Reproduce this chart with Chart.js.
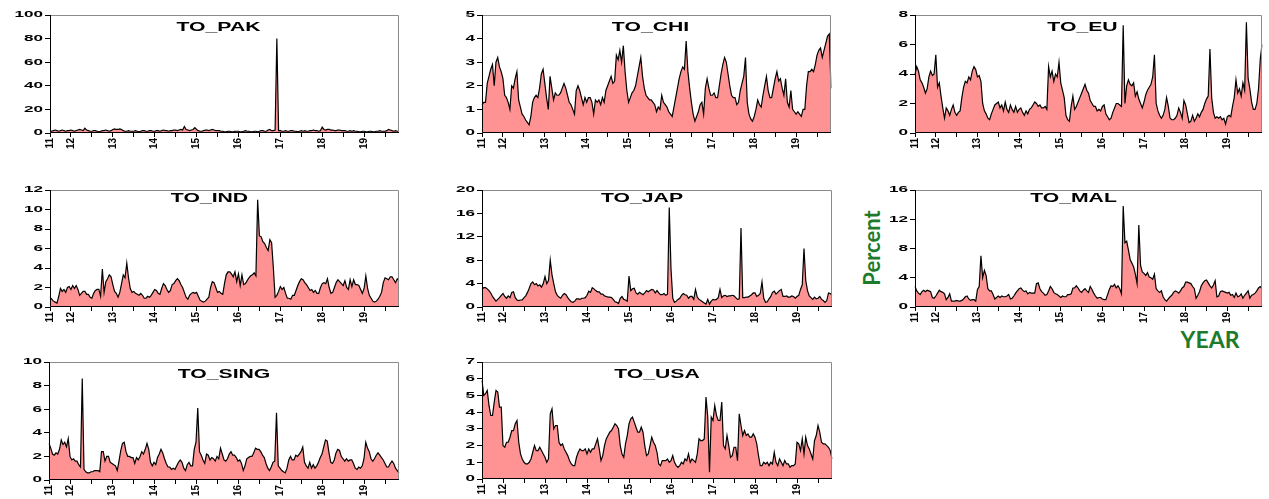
<!DOCTYPE html>
<html>
<head>
<meta charset="utf-8">
<script src="https://cdn.jsdelivr.net/npm/chart.js@4.4.1/dist/chart.umd.min.js"></script>
<style>
  body { margin: 0; background: #fff; width: 1269px; height: 499px; position: relative; overflow: hidden; }
  canvas { position: absolute; }
  .axisTitle { position: absolute; color: #1e7b2c; font: bold 22px Lato, "Open Sans", sans-serif; white-space: nowrap; }
</style>
</head>
<body>
<div class="axisTitle" id="percent" style="left:871px; top:248px; transform: translate(-50%, -50%) rotate(-90deg);">Percent</div>
<div class="axisTitle" id="year" style="left:1210px; top:339px; transform: translate(-50%, -50%); font-size:23px;">YEAR</div>
<script>
// semi-monthly observations, Jul 2011 .. Nov 2019
const periods = [];
for (let k = 0; k < 201; k++) {
    const m = 6 + Math.floor(k / 2);
    periods.push(`${2011 + Math.floor(m / 12)}M${String(m % 12 + 1).padStart(2, '0')}${k % 2 ? 'b' : 'a'}`);
}
const yearLabels = ['11', '12', '13', '14', '15', '16', '17', '18', '19'];
const yearLabelIdx = [0, 12, 36, 60, 84, 108, 132, 156, 180];
const minorTickEvery = 12; // half-year tick marks

const toPak = [
    2,1.5,2,2.5,2,1.5,2,2.5,2,1.5,2,2,
    2.5,2,1.5,2,2.5,3,2.5,2,4,2.5,2,1.5,
    1.5,2,2,1.5,1,1.5,2,2,2.5,2,1.5,2,
    3,3.5,3,3,3.5,3,2,1.5,1.5,2,1.5,1.5,
    1.5,2,1.5,1,1.5,2,2,1.5,1.5,2,2,1.5,
    1.5,2,2,1.5,2,2.5,2,2,1.5,2,2,2.5,
    2.5,2,2.5,3,2.5,5.5,3,2.5,2,2.5,3,4.5,
    3,2,1.5,1.5,2,2.5,2.5,2,2.5,3,2.5,2,
    2,2,1.5,1.5,1,1,1.5,1.5,1,1,1.5,1.5,
    1.5,1,1,1.5,2,1.5,1.5,1,1,1.5,1.5,1,
    1.5,2,2,1.5,1.5,2.5,3,2,2,2.5,80,2,
    2,1.5,1.5,2,1.5,1.5,2,2,1.5,1.5,1,1.5,
    2,1.5,2,1.5,1.5,2,2,2.5,2,2,1.5,2,
    5,3,2.5,3,3,2.5,2.5,2,2,2.5,2.5,2,
    2,2,1.5,1.5,2,1.5,2,1.5,1.5,1,1,1.5,
    1.5,1,1,1.5,1.5,1,1,1.5,1.5,2,1.5,1.5,
    1.5,2,3,2.5,2,1.5,2,1.5,1.5
];
const toChi = [
    1.2,1.3,1.3,2.1,2.4,2.7,2.9,2.0,3.0,3.2,2.8,2.6,
    2.3,1.6,1.5,1.3,1.0,2.0,1.9,2.3,2.6,1.4,1.1,0.8,
    0.7,0.55,0.45,0.35,0.7,1.3,1.5,1.6,1.5,1.9,2.5,2.7,
    2.1,1.5,1.0,2.4,1.9,1.4,1.7,1.6,1.6,1.7,1.9,2.1,
    1.9,1.6,1.3,1.2,1.0,0.8,1.8,2.0,1.8,1.5,1.2,1.5,
    1.3,1.5,1.5,1.3,0.8,1.4,1.3,1.4,1.2,1.5,1.3,1.8,
    2.0,2.2,2.4,2.1,2.2,3.3,3.1,3.5,3.0,3.7,2.6,1.8,
    1.3,1.5,1.7,1.8,2.0,2.4,2.8,3.2,2.4,1.9,1.6,1.5,
    1.4,1.4,1.3,1.2,0.9,1.1,1.0,1.6,1.3,1.2,1.1,0.9,
    0.8,0.7,1.1,1.5,1.9,2.3,2.6,2.8,2.7,3.9,2.6,1.9,
    1.3,0.8,0.5,0.7,0.9,1.2,1.3,0.8,1.9,2.3,1.9,1.6,
    1.6,1.7,1.5,1.5,2.0,2.5,2.9,3.2,3.0,2.5,2.0,1.6,
    1.5,1.5,1.2,1.3,1.8,2.1,2.4,3.2,1.3,0.8,0.6,0.5,
    0.7,1.0,1.4,1.2,1.1,1.6,2.0,2.4,1.8,1.5,1.5,1.9,
    2.3,2.6,2.2,2.3,1.9,1.6,2.3,1.3,1.1,1.8,1.0,0.9,
    0.8,0.9,0.8,0.7,1.0,1.0,2.0,2.6,2.6,2.7,2.6,2.9,
    3.3,3.5,3.6,3.2,3.5,3.8,4.1,4.2,1.9
];
const toEu = [
    4.0,4.5,4.2,3.6,3.4,3.1,2.7,3.0,3.8,4.2,3.9,4.0,
    5.3,3.1,3.4,2.5,1.7,1.0,1.7,1.5,1.2,1.6,1.9,1.4,
    1.2,1.4,1.5,2.4,3.1,3.5,3.4,3.8,3.6,4.2,4.5,4.3,
    3.8,3.9,3.5,2.0,1.5,1.3,1.0,0.9,1.3,1.6,1.9,2.0,
    2.1,1.7,1.9,1.5,2.1,1.6,1.4,1.9,1.6,1.4,1.8,1.4,
    1.6,1.7,1.4,1.2,1.5,1.3,1.6,1.7,1.9,2.1,2.0,1.8,
    1.9,1.7,1.7,1.8,1.6,4.5,3.8,4.2,3.5,4.0,3.8,4.8,
    3.4,2.9,2.4,1.2,0.9,0.8,1.8,2.5,1.6,1.8,2.1,2.4,
    2.7,3.0,3.3,2.9,2.7,2.2,2.0,1.8,1.8,1.5,1.6,1.5,
    1.8,1.9,1.3,1.1,0.9,1.0,1.4,1.7,2.0,2.0,1.9,1.8,
    7.3,2.0,3.2,3.6,3.3,3.2,3.4,2.5,2.8,2.3,2.0,1.7,
    2.1,2.6,2.9,3.1,3.3,3.8,5.3,2.0,1.5,1.2,1.0,1.2,
    1.6,2.4,1.8,1.0,0.9,0.9,1.0,1.2,1.7,1.4,1.0,2.2,
    1.9,1.3,0.7,0.8,1.2,0.8,1.0,1.3,1.1,1.4,1.6,2.0,
    2.3,2.5,5.7,2.4,1.4,1.0,1.1,1.0,1.1,0.9,1.0,0.6,
    1.1,1.2,1.1,1.8,2.4,3.6,2.7,3.0,2.5,3.4,2.9,7.5,
    3.7,3.0,2.1,1.6,1.6,2.0,3.0,5.0,6.0
];
const toInd = [
    1.0,0.8,0.6,0.5,0.4,1.1,1.9,1.6,1.8,1.5,2.0,2.1,
    1.8,2.2,1.9,2.2,1.8,1.2,1.4,1.6,1.6,1.3,1.3,1.0,
    0.9,1.4,1.7,1.8,1.8,1.1,3.9,1.5,2.6,2.9,3.3,3.1,
    2.3,1.6,1.4,1.0,1.5,2.4,3.3,3.0,4.5,3.0,1.9,1.5,
    1.6,1.4,1.3,1.2,1.4,1.2,0.9,0.9,1.1,1.0,1.2,1.5,
    1.8,1.7,1.4,1.3,1.9,2.4,2.2,1.8,1.5,1.7,2.3,2.4,
    2.7,2.9,2.7,2.3,2.0,1.5,1.0,0.8,1.2,1.4,1.5,1.4,
    1.5,1.1,0.7,0.6,0.5,0.6,0.8,1.0,2.0,2.6,2.5,2.0,
    1.5,1.6,1.4,1.3,2.4,3.3,3.6,3.6,3.4,3.1,3.6,2.6,
    3.4,2.2,3.3,2.3,2.4,2.7,3.0,3.2,3.3,3.5,3.2,11.0,
    7.3,7.2,6.7,6.5,6.1,5.8,6.9,6.6,4.0,1.0,1.2,1.6,
    2.1,1.8,2.0,1.4,0.9,0.9,0.8,1.2,1.2,1.7,2.2,2.6,
    2.9,2.8,2.5,2.3,2.0,1.7,1.8,1.5,1.7,1.4,1.4,2.0,
    2.4,2.5,2.4,2.9,2.0,1.4,1.5,2.0,2.5,2.8,2.6,2.4,
    2.2,2.7,2.0,1.8,2.8,2.1,2.8,2.3,2.3,2.2,1.8,1.4,
    1.9,3.2,1.9,1.2,0.9,0.6,0.5,0.6,0.8,1.1,1.5,2.5,
    3.0,2.9,2.8,3.1,3.1,2.8,2.5,2.9,2.7
];
const toJap = [
    3.0,3.3,3.3,3.1,2.8,2.4,1.8,1.4,1.0,1.3,1.6,2.0,
    2.3,1.8,1.5,1.9,1.6,2.5,2.6,1.6,1.2,1.1,1.2,1.2,
    1.6,1.9,2.5,3.2,4.0,4.3,3.8,4.0,3.6,3.8,3.4,4.0,
    5.2,4.0,4.5,8.0,5.5,4.0,2.6,2.0,1.7,1.5,2.0,2.3,
    2.1,1.6,1.2,0.9,0.8,1.0,1.4,1.4,1.3,1.5,1.5,1.6,
    2.0,2.7,2.5,3.3,3.1,2.8,2.6,2.6,2.2,2.2,1.9,1.8,
    1.7,1.7,1.6,1.3,0.9,0.8,0.6,1.5,1.8,1.3,1.2,1.0,
    5.3,2.8,3.1,3.2,2.4,2.2,2.5,2.3,2.1,2.4,2.8,2.6,
    2.8,3.0,2.9,2.4,2.8,2.4,2.1,2.1,2.3,2.0,2.2,17.0,
    6.5,1.5,0.8,1.0,1.3,1.5,2.0,2.3,2.1,2.0,1.5,1.8,
    1.8,1.3,3.0,1.7,1.3,1.1,0.9,0.7,0.5,1.3,0.5,1.0,
    1.3,1.2,1.3,1.6,3.0,1.6,1.9,2.0,1.8,1.9,1.9,2.0,
    1.9,1.6,1.3,1.4,13.5,1.6,1.6,1.7,1.7,1.9,2.1,2.4,
    2.4,1.8,2.0,2.3,4.3,1.5,0.8,0.9,1.4,1.8,2.5,2.7,
    2.2,2.5,2.8,3.0,1.8,1.8,1.9,1.7,1.7,1.9,1.8,1.5,
    1.8,2.0,3.0,3.8,10.0,4.5,2.8,1.9,1.6,1.3,1.7,1.4,
    1.5,1.8,1.3,1.1,0.8,1.1,2.4,2.3,2.0
];
const toMal = [
    2.8,2.2,1.9,1.7,2.1,2.3,2.1,2.3,2.2,2.1,1.3,1.2,
    1.5,1.9,2.3,2.1,2.0,1.8,1.0,1.3,1.8,0.8,0.8,0.8,
    0.9,0.8,0.8,0.9,1.1,1.4,1.5,1.1,0.9,1.0,1.0,0.8,
    2.4,2.8,7.0,4.0,5.0,4.3,2.5,2.2,2.2,1.7,1.1,1.3,
    1.5,1.3,1.5,1.4,1.4,1.5,1.7,1.1,1.2,1.5,1.9,2.2,
    2.5,2.6,2.3,2.1,2.2,1.8,2.0,1.9,1.9,1.9,3.2,3.3,
    2.5,2.1,1.9,1.6,1.7,2.2,2.8,2.5,2.0,1.8,1.7,1.5,
    1.3,1.5,1.4,1.4,1.7,1.7,1.8,2.6,2.6,2.9,2.6,2.2,
    2.0,2.3,2.5,2.2,2.0,2.8,2.4,1.9,1.5,1.2,1.3,1.3,
    1.1,1.0,1.0,1.7,2.4,2.9,2.8,3.1,2.6,2.9,2.5,1.8,
    13.8,8.8,9.0,7.8,6.5,6.0,5.5,4.5,3.2,11.2,5.7,4.8,
    4.6,4.3,4.7,4.1,4.0,3.8,4.5,2.5,2.2,2.0,2.2,1.4,
    1.0,0.8,1.1,1.4,1.6,2.0,2.2,2.1,1.9,2.2,2.6,2.8,
    3.4,3.4,3.3,3.2,2.8,2.5,1.2,1.6,2.1,2.9,3.3,3.6,
    3.7,3.3,2.9,2.6,3.0,3.6,1.4,1.5,2.1,2.2,2.1,2.0,
    1.9,2.0,1.6,1.7,1.3,1.9,1.4,1.5,1.8,1.2,1.6,1.9,
    2.2,1.2,1.6,1.7,1.9,2.2,2.6,2.8,2.5
];
const toSing = [
    3.1,2.7,2.2,2.1,2.3,2.2,2.6,3.4,3.0,3.2,2.8,3.5,
    2.0,1.7,1.8,1.6,1.6,1.3,1.1,8.6,0.9,0.7,0.6,0.6,
    0.7,0.7,0.8,0.8,0.8,0.7,2.4,2.4,1.6,2.0,2.0,1.5,
    1.4,1.3,1.2,0.8,1.6,2.5,3.1,3.2,2.4,2.0,2.0,1.9,
    1.9,1.4,1.9,1.7,2.0,2.4,2.2,2.6,3.1,2.6,1.5,1.2,
    1.5,1.3,1.9,2.2,2.6,2.3,1.8,1.4,1.1,1.1,0.9,1.0,
    0.9,1.2,1.5,1.7,1.5,1.0,0.8,1.3,1.5,1.2,1.2,2.6,
    3.2,6.1,2.4,2.1,1.7,1.4,2.2,2.1,1.7,1.9,1.8,1.6,
    2.0,1.8,2.7,2.2,1.7,1.6,1.8,2.2,2.4,2.1,2.1,1.9,
    1.6,1.7,1.4,0.8,1.2,1.8,1.9,2.0,2.0,2.3,2.7,2.6,
    2.6,2.4,2.1,1.9,1.4,1.0,0.8,1.1,1.5,1.6,5.7,1.2,
    1.0,0.8,0.7,0.6,1.0,1.7,2.0,1.7,1.7,2.1,2.0,2.2,
    2.4,2.8,1.5,1.2,1.0,1.5,1.0,1.3,1.0,1.2,1.5,1.9,
    2.2,2.8,3.4,3.3,2.3,1.5,1.4,1.7,2.3,2.6,2.5,2.0,
    1.8,1.6,1.8,1.6,1.7,1.7,1.4,1.0,0.9,1.1,1.0,1.2,
    1.8,3.2,2.7,2.4,1.8,1.6,1.8,2.1,2.3,2.1,1.9,1.7,
    1.4,1.1,1.1,1.4,1.6,1.4,1.0,0.8,0.6
];
const toUsa = [
    5.9,5.0,5.1,5.3,4.4,3.8,3.8,4.6,5.3,5.2,4.3,4.3,
    2.0,1.9,2.2,2.2,2.5,2.9,2.9,3.3,3.5,2.2,1.5,1.2,
    1.0,0.9,0.9,1.0,1.2,1.6,2.0,1.7,1.7,1.9,1.7,1.5,
    1.3,1.0,1.2,3.9,4.2,3.0,3.2,3.2,2.2,2.0,2.1,1.8,
    1.6,1.4,1.1,0.9,0.8,0.8,1.3,1.6,1.8,1.7,1.7,1.8,
    1.5,1.8,1.6,1.8,1.8,2.1,2.4,1.8,1.1,1.4,2.0,2.4,
    2.6,2.8,2.9,3.1,3.3,3.2,3.0,2.0,1.5,1.3,2.1,2.6,
    3.3,3.6,3.7,3.4,3.1,2.8,2.8,3.1,2.8,2.0,1.4,1.5,
    2.0,2.5,2.2,2.0,1.6,0.9,0.8,1.1,1.1,1.1,1.2,1.0,
    1.1,1.4,1.0,0.8,0.7,0.8,1.0,0.9,1.2,1.1,1.5,1.0,
    1.2,1.1,1.0,1.5,2.4,2.3,2.3,2.4,4.9,3.7,0.4,3.7,
    3.5,4.4,3.8,3.5,3.5,4.6,2.0,1.8,2.6,2.0,1.3,1.4,
    1.9,1.9,1.1,3.9,3.2,2.6,2.9,2.6,2.7,2.5,2.5,2.7,
    2.5,2.1,1.4,0.8,0.8,1.0,0.9,1.0,0.8,1.0,0.9,1.6,
    1.0,0.8,1.2,1.0,0.8,1.1,0.9,0.9,0.7,0.8,0.8,0.9,
    2.2,2.1,1.7,2.4,1.5,2.5,2.0,1.8,1.5,1.2,2.3,2.6,
    3.2,2.8,2.2,2.1,2.1,2.0,1.9,1.7,1.2
];

// panel layout: plot-area box in page pixels plus title placement
const panels = [
    { title: 'TO_PAK',  data: toPak,  max: 100, step: 20, L: 50,  R: 402,  T: 15,  B: 133, dx: -6,  dy: 16 },
    { title: 'TO_CHI',  data: toChi,  max: 5,   step: 1,  L: 482, R: 834,  T: 15,  B: 133, dx: -6,  dy: 16 },
    { title: 'TO_EU',   data: toEu,   max: 8,   step: 2,  L: 915, R: 1265, T: 15,  B: 133, dx: -6,  dy: 16 },
    { title: 'TO_IND',  data: toInd,  max: 12,  step: 2,  L: 50,  R: 402,  T: 190, B: 307, dx: -15, dy: 12 },
    { title: 'TO_JAP',  data: toJap,  max: 20,  step: 4,  L: 482, R: 835,  T: 190, B: 307, dx: -15, dy: 12 },
    { title: 'TO_MAL',  data: toMal,  max: 16,  step: 4,  L: 915, R: 1265, T: 190, B: 307, dx: -15, dy: 12 },
    { title: 'TO_SING', data: toSing, max: 10,  step: 2,  L: 49,  R: 402,  T: 362, B: 480, dx: 0,   dy: 16 },
    { title: 'TO_USA',  data: toUsa,  max: 7,   step: 1,  L: 482, R: 835,  T: 362, B: 479, dx: 0,   dy: 16 }
];

const YW = 45, PT = 8, PR = 10, XH = 24;

// frame, wide y tick labels and the in-plot title
const panelDecor = {
    id: 'panelDecor',
    afterDraw(chart, args, opts) {
        const { ctx, chartArea: a } = chart;
        const y = chart.scales.y;
        ctx.save();
        ctx.lineWidth = 1;
        ctx.strokeStyle = '#8a8a8a';
        ctx.beginPath();
        ctx.moveTo(a.left, a.top + 0.5);
        ctx.lineTo(a.right - 0.5, a.top + 0.5);
        ctx.lineTo(a.right - 0.5, a.bottom);
        ctx.stroke();
        ctx.strokeStyle = '#000';
        ctx.beginPath();
        ctx.moveTo(a.left + 0.5, a.top);
        ctx.lineTo(a.left + 0.5, a.bottom - 0.5);
        ctx.lineTo(a.right, a.bottom - 0.5);
        ctx.stroke();

        ctx.fillStyle = '#000';
        ctx.font = 'bold 9px "Liberation Sans", Arial, sans-serif';
        ctx.textAlign = 'right';
        ctx.textBaseline = 'middle';
        y.ticks.forEach(t => {
            ctx.save();
            ctx.translate(a.left - 7, y.getPixelForValue(t.value));
            ctx.scale(1.9, 1);
            ctx.fillText(String(t.value), 0, 0);
            ctx.restore();
        });

        ctx.font = 'bold 13px "Liberation Sans", Arial, sans-serif';
        ctx.textAlign = 'center';
        ctx.textBaseline = 'alphabetic';
        ctx.translate((a.left + a.right) / 2 + opts.dx, a.top + opts.dy);
        ctx.scale(1.63, 1);
        ctx.fillText(opts.text, 0, 0);
        ctx.restore();
    }
};

function drawPanel(p) {
    const canvas = document.createElement('canvas');
    canvas.width = YW + (p.R - p.L) + PR;
    canvas.height = PT + (p.B - p.T) + XH;
    canvas.style.left = (p.L - YW) + 'px';
    canvas.style.top = (p.T - PT) + 'px';
    document.body.appendChild(canvas);

    new Chart(canvas, {
        type: 'line',
        data: {
            labels: periods,
            datasets: [{
                data: p.data,
                borderColor: '#000',
                borderWidth: 1.2,
                backgroundColor: '#ff9393',
                fill: 'origin',
                pointRadius: 0,
                tension: 0
            }]
        },
        options: {
            responsive: false,
            animation: false,
            layout: { padding: { top: PT, right: PR, left: 0, bottom: 0 } },
            plugins: {
                legend: { display: false },
                tooltip: { enabled: false },
                panelDecor: { text: p.title, dx: p.dx, dy: p.dy }
            },
            scales: {
                x: {
                    type: 'category',
                    border: { display: false },
                    grid: {
                        drawOnChartArea: false,
                        tickLength: 4,
                        color: c => (c.index % minorTickEvery === 0 ? '#000' : 'rgba(0,0,0,0)')
                    },
                    ticks: {
                        autoSkip: false,
                        minRotation: 90,
                        maxRotation: 90,
                        padding: 1,
                        color: '#000',
                        font: { family: 'Liberation Sans', size: 10, weight: 'bold' },
                        callback: (val, idx) => {
                            const k = yearLabelIdx.indexOf(idx);
                            return k >= 0 ? yearLabels[k] : '';
                        }
                    },
                    afterFit: s => { s.height = XH; }
                },
                y: {
                    min: 0,
                    max: p.max,
                    border: { display: false },
                    grid: { drawOnChartArea: false, tickLength: 5, color: '#000' },
                    ticks: { stepSize: p.step, display: false },
                    afterFit: s => { s.width = YW; }
                }
            }
        },
        plugins: [panelDecor]
    });
}

panels.forEach(drawPanel);
</script>
</body>
</html>
